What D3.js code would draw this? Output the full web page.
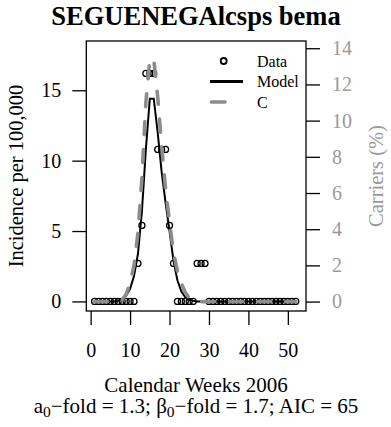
<!DOCTYPE html>
<html>
<head>
<meta charset="utf-8">
<script src="https://cdn.jsdelivr.net/npm/d3@7"></script>
<style>
  body { margin: 0; background: #fff; }
</style>
</head>
<body>
<div id="chart"></div>
<script>
// weekly values
var weeks = [1,2,3,4,5,6,7,8,9,10,11,12,13,14,15,16,17,18,19,20,21,22,23,24,25,26,
             27,28,29,30,31,32,33,34,35,36,37,38,39,40,41,42,43,44,45,46,47,48,49,50,51,52];
var incidence = [0,0,0,0,0,0,0,0,0,0,0,2.7,5.4,16.2,16.2,16.2,10.8,10.8,10.8,5.4,2.7,0,0,0,0,0,
                 2.7,2.7,2.7,0,0,0,0,0,0,0,0,0,0,0,0,0,0,0,0,0,0,0,0,0,0,0];
var model = [0,0,0,0,0,0,0.05,0.15,0.4,0.9,1.8,3.4,6.4,10.8,14.4,14.4,12.0,9.2,7.0,5.0,2.9,1.5,0.7,0.3,0.12,0.05,
             0,0,0,0,0,0,0,0,0,0,0,0,0,0,0,0,0,0,0,0,0,0,0,0,0,0];
var carriers = [0,0,0,0,0,0,0,0.1,0.4,1.0,2.0,3.8,6.8,11.0,13.4,13.4,11.3,8.6,6.2,4.4,2.7,1.7,1.0,0.5,0.2,0.1,
                0,0,0,0,0,0,0,0,0,0,0,0,0,0,0,0,0,0,0,0,0,0,0,0,0,0];
var xTicks = [0,10,20,30,40,50];
var yTicks = [0,5,10,15];
var cTicks = [0,2,4,6,8,10,12,14];
var legendLabels = ["Data", "Model", "C"];

var width = 391, height = 427;
var box = {left: 86.3, right: 306, top: 41, bottom: 311};
var grey = "#8c8c8c", greyText = "#9a9a9a";
var serif = '"Liberation Serif", "Times New Roman", Times, serif';

var svg = d3.select("#chart").append("svg")
    .attr("width", width).attr("height", height)
    .attr("font-family", serif);

var x = d3.scaleLinear().domain([-1.1, 54.6]).range([box.left, box.right]);
var yl = d3.scaleLinear().domain([-0.68, 18.5]).range([box.bottom, box.top]);
var yr = d3.scaleLinear().domain([-0.52, 14.4]).range([box.bottom, box.top]);

// axes
var gx = svg.append("g").attr("transform", "translate(0," + box.bottom + ")")
    .call(d3.axisBottom(x).tickValues(xTicks).tickSize(14).tickSizeOuter(0).tickPadding(18));
var gy = svg.append("g").attr("transform", "translate(" + box.left + ",0)")
    .call(d3.axisLeft(yl).tickValues(yTicks).tickSize(14).tickSizeOuter(0).tickPadding(11));
var gr = svg.append("g").attr("transform", "translate(" + box.right + ",0)")
    .call(d3.axisRight(yr).tickValues(cTicks).tickSize(14).tickSizeOuter(0).tickPadding(12));
[gx, gy, gr].forEach(function(g) {
  g.attr("font-family", serif).attr("font-size", 20);
  g.select(".domain").remove();
  g.selectAll(".tick line").attr("stroke", "#000").attr("stroke-width", 1.3);
  g.selectAll(".tick text").attr("fill", "#000");
});
gr.selectAll(".tick text").attr("fill", greyText);

// box
svg.append("rect")
    .attr("x", box.left).attr("y", box.top)
    .attr("width", box.right - box.left).attr("height", box.bottom - box.top)
    .attr("fill", "none").attr("stroke", "#000").attr("stroke-width", 1.3);

// data points
svg.append("g").selectAll("circle")
    .data(weeks)
    .enter().append("circle")
    .attr("cx", function(d) { return x(d); })
    .attr("cy", function(d, i) { return yl(incidence[i]); })
    .attr("r", 3)
    .attr("fill", "none").attr("stroke", "#000").attr("stroke-width", 1.3);

// model line
var lineModel = d3.line()
    .x(function(d) { return x(d); })
    .y(function(d, i) { return yl(model[i]); });
svg.append("path").datum(weeks)
    .attr("d", lineModel)
    .attr("fill", "none").attr("stroke", "#000").attr("stroke-width", 2);

// carriers (right axis)
var lineC = d3.line()
    .x(function(d) { return x(d); })
    .y(function(d, i) { return yr(carriers[i]); });
svg.append("path").datum(weeks)
    .attr("d", lineC)
    .attr("fill", "none").attr("stroke", grey).attr("stroke-width", 3.6)
    .attr("stroke-linecap", "round").attr("stroke-dasharray", "13,15");

// legend
var lg = svg.append("g");
var rowY = [61, 81.5, 102];
lg.append("circle").attr("cx", 223.7).attr("cy", rowY[0]).attr("r", 3)
  .attr("fill", "none").attr("stroke", "#000").attr("stroke-width", 1.8);
lg.append("line").attr("x1", 210).attr("x2", 243).attr("y1", rowY[1]).attr("y2", rowY[1])
  .attr("stroke", "#000").attr("stroke-width", 3.2);
lg.append("line").attr("x1", 211.5).attr("x2", 225).attr("y1", rowY[2]).attr("y2", rowY[2])
  .attr("stroke", grey).attr("stroke-width", 3.6).attr("stroke-linecap", "round");
legendLabels.forEach(function(t, i) {
  lg.append("text").attr("x", 257).attr("y", rowY[i] + 5.5)
    .attr("font-size", 16).text(t);
});

// titles
svg.append("text").attr("x", 196).attr("y", 25).attr("text-anchor", "middle")
  .attr("font-size", 26.5).attr("font-weight", "bold").text("SEGUENEGAlcsps bema");

svg.append("text").attr("x", 196).attr("y", 391.5).attr("text-anchor", "middle")
  .attr("font-size", 21).text("Calendar Weeks 2006");

var sub = svg.append("text").attr("x", 196).attr("y", 413).attr("text-anchor", "middle")
  .attr("font-size", 21);
sub.append("tspan").text("a");
sub.append("tspan").attr("dy", 4).attr("font-size", 15.5).text("0");
sub.append("tspan").attr("dy", -4).text("\u2212fold = 1.3; \u03b2");
sub.append("tspan").attr("dy", 4).attr("font-size", 15.5).text("0");
sub.append("tspan").attr("dy", -4).text("\u2212fold = 1.7; AIC = 65");

svg.append("text").attr("transform", "translate(23," + ((box.top + box.bottom) / 2) + ") rotate(-90)")
  .attr("text-anchor", "middle").attr("font-size", 20.5).text("Incidence per 100,000");

svg.append("text").attr("transform", "translate(383," + ((box.top + box.bottom) / 2) + ") rotate(-90)")
  .attr("text-anchor", "middle").attr("font-size", 20.5).attr("fill", greyText).text("Carriers (%)");
</script>
</body>
</html>
